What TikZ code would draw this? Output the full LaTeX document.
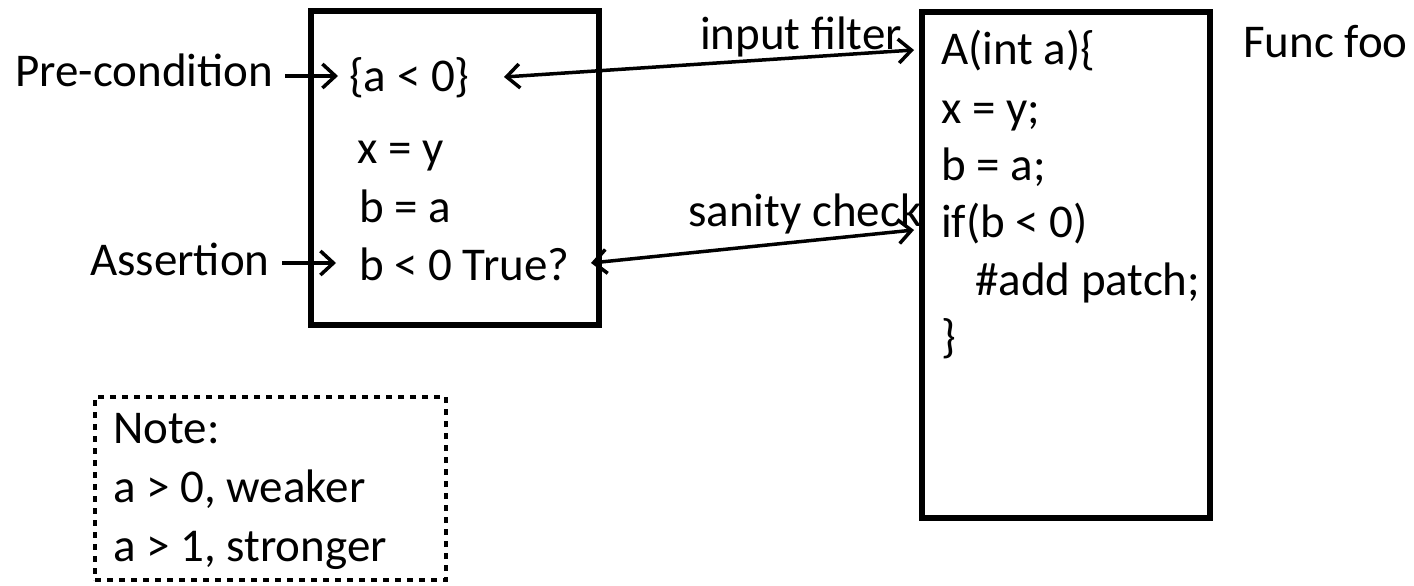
\documentclass[tikz,border=0pt]{standalone}
\usepackage{fontspec}
\setmainfont{Carlito}
\usetikzlibrary{arrows.meta}
\begin{document}
\begin{tikzpicture}[x=1pt,y=-1pt,
  txt/.style={anchor=base west, inner sep=0pt, font=\fontsize{47}{56}\selectfont},
  boxline/.style={draw=black, line width=5.5pt, inner sep=0pt, rectangle},
  dotline/.style={draw=black, line width=4.5pt, dash pattern=on 6pt off 6pt, inner sep=0pt, rectangle},
  tipA/.tip={Straight Barb[length=13pt,width=24pt]},
  arr/.style={line width=3.5pt, -tipA},
  darr/.style={line width=3.5pt, tipA-tipA}]
\useasboundingbox (0,0) rectangle (1414,586);
% boxes
\node[boxline, minimum width=288pt, minimum height=314pt] (lbox) at (455,168) {};
\node[boxline, minimum width=288pt, minimum height=506pt] (rbox) at (1066,265) {};
\node[dotline, minimum width=351pt, minimum height=183pt] (note) at (270.5,488.5) {};
% left labels
\node[txt] (pre) at (15,86) {Pre-condition};
\node[txt] (asrt) at (90,275) {Assertion};
% left box text
\node[txt] (l1) at (349,92) {\{a < 0\}};
\node[txt] (l2) at (357,163) {x = y};
\node[txt] (l3) at (359,222) {b = a};
\node[txt] (l4) at (359,280) {b < 0 True?};
% right box text
\node[txt] (r1) at (941,65) {A(int a)\{};
\node[txt] (r2) at (941,123) {x = y;};
\node[txt] (r3) at (941,180) {b = a;};
\node[txt] (r4) at (941,237) {if(b < 0)};
\node[txt] (r5) at (975,295) {\#add patch;};
\node[txt] (r6) at (941,352) {\}};
\node[txt] (func) at (1243,58) {Func foo};
% arrow labels
\node[txt] (inf) at (700,50) {input filter};
\node[txt] (san) at (688,226) {sanity check};
% note text
\node[txt] (n1) at (113,443) {Note:};
\node[txt] (n2) at (113,502) {a > 0, weaker};
\node[txt] (n3) at (113,561) {a > 1, stronger};
% arrow endpoints
\coordinate (preS) at (285,76);
\coordinate (preE) at (338,76);
\coordinate (asS) at (282,263);
\coordinate (asE) at (336,263);
\coordinate (ifL) at (504,77);
\coordinate (ifR) at (914,50);
\coordinate (scL) at (591,263);
\coordinate (scR) at (914,230);
\draw[arr] (preS) -- (preE);
\draw[arr] (asS) -- (asE);
\draw[darr] (ifL) -- (ifR);
\draw[darr] (scL) -- (scR);
\end{tikzpicture}
\end{document}
